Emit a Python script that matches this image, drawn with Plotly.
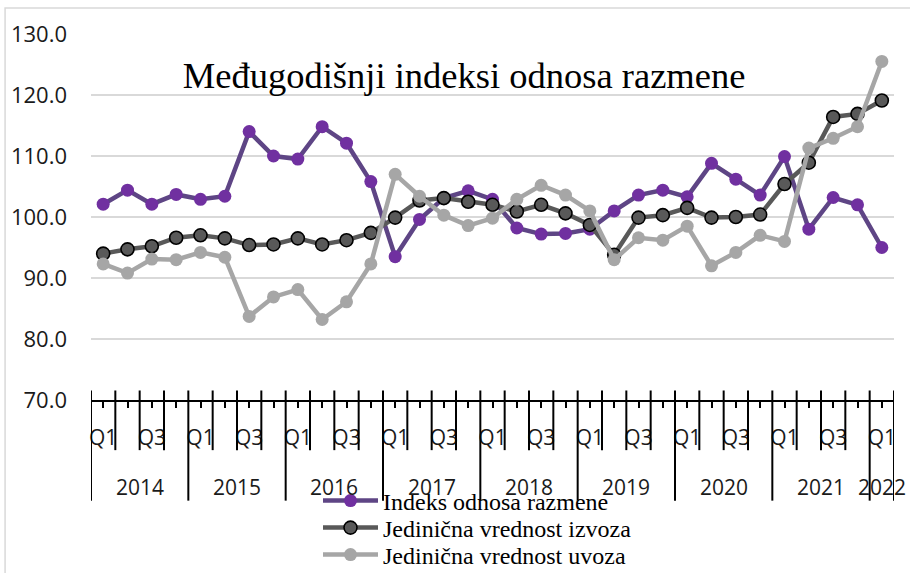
import plotly.graph_objects as go

years = ["2014"] * 4 + ["2015"] * 4 + ["2016"] * 4 + ["2017"] * 4 + ["2018"] * 4 + \
        ["2019"] * 4 + ["2020"] * 4 + ["2021"] * 4 + ["2022"]
quarters = ["Q1", "Q2", "Q3", "Q4"] * 8 + ["Q1"]

indeks = [102.1, 104.4, 102.1, 103.7, 102.9, 103.4, 114.0, 110.0, 109.5, 114.8, 112.1, 105.8,
          93.5, 99.6, 103.1, 104.3, 102.9, 98.2, 97.2, 97.3, 98.0, 101.0, 103.6, 104.4,
          103.3, 108.8, 106.2, 103.6, 109.9, 98.0, 103.2, 102.0, 95.0]
izvoz = [94.0, 94.7, 95.2, 96.6, 97.0, 96.5, 95.4, 95.5, 96.5, 95.5, 96.2, 97.4,
         99.9, 102.7, 103.1, 102.5, 102.0, 100.9, 102.0, 100.6, 98.7, 93.8, 99.9, 100.3,
         101.5, 99.9, 100.0, 100.4, 105.4, 108.9, 116.4, 116.9, 119.1]
uvoz = [92.3, 90.8, 93.1, 93.0, 94.2, 93.4, 83.7, 86.9, 88.1, 83.2, 86.1, 92.3,
        107.0, 103.4, 100.3, 98.6, 99.8, 102.9, 105.2, 103.6, 101.0, 93.0, 96.6, 96.2,
        98.5, 92.0, 94.2, 97.0, 96.0, 111.3, 112.9, 114.8, 125.5]

series_names = ["Indeks odnosa razmene", "Jedinična vrednost izvoza", "Jedinična vrednost uvoza"]
y_ticks = [70, 80, 90, 100, 110, 120, 130]
title_text = "Međugodišnji indeksi odnosa razmene"

idx = list(range(len(quarters)))
W, H = 910, 573

fig = go.Figure()
fig.add_trace(go.Scatter(
    x=idx, y=indeks, name=series_names[0], mode="lines+markers", legend="legend",
    line=dict(color="#5E4585", width=4.5),
    marker=dict(size=13, color="#7030A0", line=dict(width=0))))
fig.add_trace(go.Scatter(
    x=idx, y=izvoz, name=series_names[1], mode="lines+markers", legend="legend2",
    line=dict(color="#595959", width=4.5),
    marker=dict(size=13, color="#595959", line=dict(width=1.6, color="#000000"))))
fig.add_trace(go.Scatter(
    x=idx, y=uvoz, name=series_names[2], mode="lines+markers", legend="legend3",
    line=dict(color="#A6A6A6", width=4.5),
    marker=dict(size=13, color="#A6A6A6", line=dict(width=0))))

tick_text = [q if q in ("Q1", "Q3") else "" for q in quarters]

shapes = []
for k in range(len(quarters) + 1):
    is_year = (k == 0) or (k == len(quarters)) or (years[k] != years[k - 1])
    shapes.append(dict(type="line", xref="x", yref="paper",
                       x0=k - 0.5, x1=k - 0.5, y0=0.026,
                       y1=-0.275 if is_year else -0.137,
                       line=dict(color="#000000", width=2)))
shapes.append(dict(type="rect", xref="paper", yref="paper", x0=-0.107, x1=1.2,
                   y0=-0.8, y1=1.071, line=dict(color="#D9D9D9", width=1.5),
                   fillcolor="rgba(0,0,0,0)", layer="below"))

annotations = []
uniq_years = []
for y in years:
    if y not in uniq_years:
        uniq_years.append(y)
for yr in uniq_years:
    pos = [i for i, v in enumerate(years) if v == yr]
    annotations.append(dict(x=(pos[0] + pos[-1]) / 2, y=-0.238, xref="x", yref="paper",
                            text=yr, showarrow=False, yanchor="middle", xanchor="center",
                            font=dict(family="Open Sans", size=21, color="#1a1a1a")))

legend_font = dict(family="Liberation Serif", size=24, color="#000000")
def leg(ypx):
    return dict(orientation="v", xref="container", yref="container",
                x=318 / W, xanchor="left", y=1 - ypx / H, yanchor="middle",
                bgcolor="rgba(0,0,0,0)", font=legend_font, itemwidth=55,
                borderwidth=0)

fig.update_layout(
    width=W, height=H,
    margin=dict(l=91, r=16, t=34, b=173, autoexpand=False),
    paper_bgcolor="white", plot_bgcolor="white",
    title=dict(text=title_text, x=0.51, xanchor="center", y=1 - 75 / H, yanchor="middle",
               font=dict(family="Liberation Serif", size=36.5, color="#000000")),
    showlegend=True,
    legend=leg(501), legend2=leg(528), legend3=leg(555),
    shapes=shapes, annotations=annotations,
    xaxis=dict(range=[-0.5, len(quarters) - 0.5], tickmode="array", tickvals=idx, ticktext=tick_text,
               ticks="outside", ticklen=6, tickwidth=1.5, tickcolor="#000000",
               showgrid=False, zeroline=False, showline=True, linecolor="#000000", linewidth=2,
               tickfont=dict(family="Open Sans", size=21, color="#1a1a1a"), tickangle=0,
               ticklabelstandoff=12, automargin=False),
    yaxis=dict(range=[70, 130], tickvals=y_ticks, tickformat=".1f", showgrid=True,
               gridcolor="#D9D9D9", gridwidth=1.5, zeroline=False, showline=False, ticks="",
               tickfont=dict(family="Open Sans", size=22, color="#1a1a1a"),
               ticklabelstandoff=23, automargin=False),
)

fig.write_html("out.html", config={"displayModeBar": False},
               post_script="document.body.style.margin='0';")
